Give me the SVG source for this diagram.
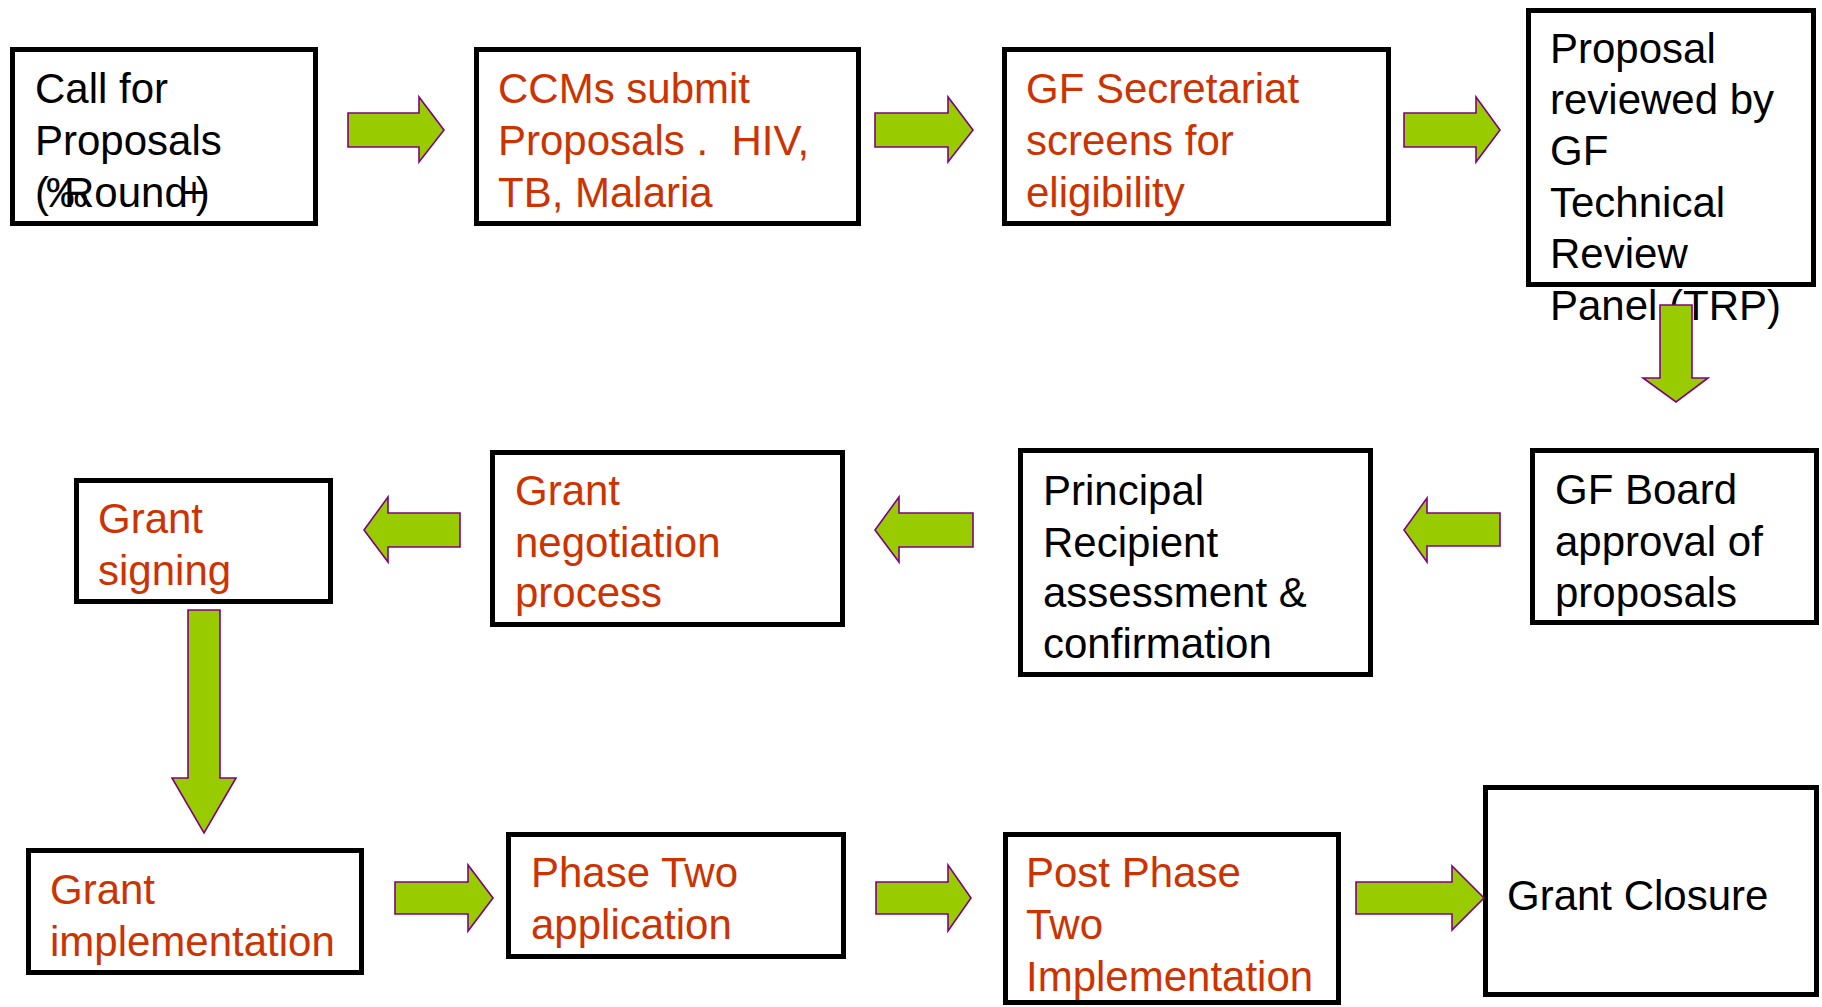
<svg xmlns="http://www.w3.org/2000/svg" width="1822" height="1007" viewBox="0 0 1822 1007">
<style>
.box{fill:#fff;stroke:#000;stroke-width:5}
.t{font-family:"Liberation Sans",Arial,sans-serif;font-size:42px;white-space:pre}
.k{fill:#000}
.r{fill:#CC3300}
.arr{fill:#99CC00;stroke:#800080;stroke-width:1.6;stroke-linejoin:miter}
</style>
<rect width="1822" height="1007" fill="#fff"/>
<g id="n1">
<rect class="box" x="12.5" y="49.5" width="303" height="174"/>
<text class="t k"><tspan x="35" y="103">Call for</tspan><tspan x="35" y="155">Proposals</tspan></text>
<text class="t k" x="35" y="207" dx="0 -3 -24 0 0 0 0 -6 -10.5">(‰Round+)</text>
</g>
<g id="n2">
<rect class="box" x="476.5" y="49.5" width="382" height="174"/>
<text class="t r"><tspan x="498" y="103">CCMs submit</tspan><tspan x="498" y="155">Proposals .  HIV,</tspan><tspan x="498" y="207">TB, Malaria</tspan></text>
</g>
<g id="n3">
<rect class="box" x="1004.5" y="49.5" width="384" height="174"/>
<text class="t r"><tspan x="1026" y="103">GF Secretariat</tspan><tspan x="1026" y="155">screens for</tspan><tspan x="1026" y="207">eligibility</tspan></text>
</g>
<g id="n4">
<rect class="box" x="1528.5" y="10.5" width="285" height="274"/>
<text class="t k"><tspan x="1550" y="63">Proposal</tspan><tspan x="1550" y="114">reviewed by</tspan><tspan x="1550" y="165">GF</tspan><tspan x="1550" y="217">Technical</tspan><tspan x="1550" y="268">Review</tspan><tspan x="1550" y="320">Panel (TRP)</tspan></text>
</g>
<g id="n5">
<rect class="box" x="1532.5" y="450.5" width="284" height="172"/>
<text class="t k"><tspan x="1555" y="504">GF Board</tspan><tspan x="1555" y="556">approval of</tspan><tspan x="1555" y="607">proposals</tspan></text>
</g>
<g id="n6">
<rect class="box" x="1020.5" y="450.5" width="350" height="224"/>
<text class="t k"><tspan x="1043" y="505">Principal</tspan><tspan x="1043" y="557">Recipient</tspan><tspan x="1043" y="607">assessment &amp;</tspan><tspan x="1043" y="658">confirmation</tspan></text>
</g>
<g id="n7">
<rect class="box" x="492.5" y="452.5" width="350" height="172"/>
<text class="t r"><tspan x="515" y="505">Grant</tspan><tspan x="515" y="557">negotiation</tspan><tspan x="515" y="607">process</tspan></text>
</g>
<g id="n8">
<rect class="box" x="76.5" y="480.5" width="254" height="121"/>
<text class="t r"><tspan x="98" y="533">Grant</tspan><tspan x="98" y="585">signing</tspan></text>
</g>
<g id="n9">
<rect class="box" x="28.5" y="850.5" width="333" height="122"/>
<text class="t r"><tspan x="50" y="904">Grant</tspan><tspan x="50" y="956">implementation</tspan></text>
</g>
<g id="n10">
<rect class="box" x="508.5" y="834.5" width="335" height="122"/>
<text class="t r"><tspan x="531" y="887">Phase Two</tspan><tspan x="531" y="939">application</tspan></text>
</g>
<g id="n11">
<rect class="box" x="1005.5" y="834.5" width="333" height="168"/>
<text class="t r"><tspan x="1026" y="887">Post Phase</tspan><tspan x="1026" y="939">Two</tspan><tspan x="1026" y="991">Implementation</tspan></text>
</g>
<g id="n12">
<rect class="box" x="1485.5" y="787.5" width="331" height="207"/>
<text class="t k" x="1507" y="910">Grant Closure</text>
</g>
<g id="connectors">
<polygon class="arr" points="348,113 419,113 419,97 444,130 419,162 419,147 348,147"/>
<polygon class="arr" points="875,113 948,113 948,97 973,130 948,162 948,147 875,147"/>
<polygon class="arr" points="1404,113 1476,113 1476,97 1500,130 1476,162 1476,147 1404,147"/>
<polygon class="arr" points="1660,305 1692,305 1692,378 1708,378 1676,402 1643,378 1660,378"/>
<polygon class="arr" points="1500,513 1427,513 1427,498 1404,530 1427,562 1427,546 1500,546"/>
<polygon class="arr" points="973,513 899,513 899,497 875,530 899,562 899,547 973,547"/>
<polygon class="arr" points="460,513 388,513 388,497 364,530 388,562 388,547 460,547"/>
<polygon class="arr" points="188,610 220,610 220,778 236,778 204,833 172,778 188,778"/>
<polygon class="arr" points="395,882 468,882 468,865 493,898 468,931 468,914 395,914"/>
<polygon class="arr" points="876,882 948,882 948,865 971,898 948,931 948,914 876,914"/>
<polygon class="arr" points="1356,882 1452,882 1452,866 1484,898 1452,930 1452,914 1356,914"/>
</g>
</svg>
